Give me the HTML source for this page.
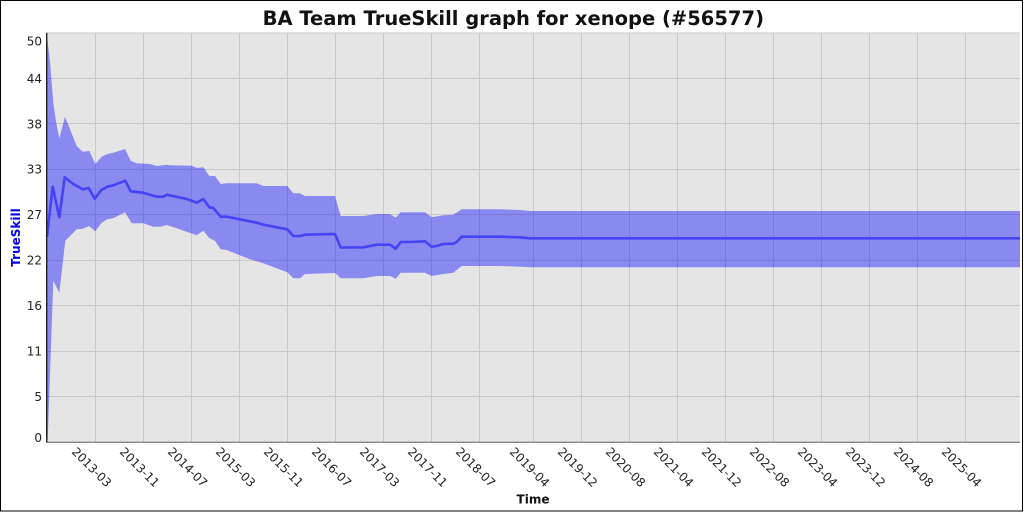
<!DOCTYPE html>
<html>
<head>
<meta charset="utf-8">
<style>
html,body{margin:0;padding:0;background:#fff;}
body{width:1024px;height:512px;overflow:hidden;}
svg{display:block;}
text{font-family:"DejaVu Sans","Liberation Sans",sans-serif;}
</style>
</head>
<body>
<svg width="1024" height="512" viewBox="0 0 1024 512" xmlns="http://www.w3.org/2000/svg">
  <rect x="0" y="0" width="1024" height="512" fill="#ffffff"/>
  <!-- plot background -->
  <rect x="46.5" y="32.7" width="973.5" height="409.3" fill="#e5e5e5"/>
  <!-- horizontal gridlines -->
  <g stroke="#c9c9c9" stroke-width="1">
    <line x1="46.5" x2="1020" y1="33" y2="33"/>
    <line x1="46.5" x2="1020" y1="78.5" y2="78.5"/>
    <line x1="46.5" x2="1020" y1="123.5" y2="123.5"/>
    <line x1="46.5" x2="1020" y1="169.5" y2="169.5"/>
    <line x1="46.5" x2="1020" y1="214.5" y2="214.5"/>
    <line x1="46.5" x2="1020" y1="260.5" y2="260.5"/>
    <line x1="46.5" x2="1020" y1="305.5" y2="305.5"/>
    <line x1="46.5" x2="1020" y1="351.5" y2="351.5"/>
    <line x1="46.5" x2="1020" y1="396.5" y2="396.5"/>
  </g>
  <!-- vertical gridlines -->
  <g stroke="#c9c9c9" stroke-width="1">
    <line y1="33" y2="442" x1="95.5" x2="95.5"/>
    <line y1="33" y2="442" x1="143.5" x2="143.5"/>
    <line y1="33" y2="442" x1="191.5" x2="191.5"/>
    <line y1="33" y2="442" x1="239.5" x2="239.5"/>
    <line y1="33" y2="442" x1="287.5" x2="287.5"/>
    <line y1="33" y2="442" x1="335.5" x2="335.5"/>
    <line y1="33" y2="442" x1="383.5" x2="383.5"/>
    <line y1="33" y2="442" x1="431.5" x2="431.5"/>
    <line y1="33" y2="442" x1="479.5" x2="479.5"/>
    <line y1="33" y2="442" x1="533.5" x2="533.5"/>
    <line y1="33" y2="442" x1="581.5" x2="581.5"/>
    <line y1="33" y2="442" x1="629.5" x2="629.5"/>
    <line y1="33" y2="442" x1="677.5" x2="677.5"/>
    <line y1="33" y2="442" x1="725.5" x2="725.5"/>
    <line y1="33" y2="442" x1="773.5" x2="773.5"/>
    <line y1="33" y2="442" x1="821.5" x2="821.5"/>
    <line y1="33" y2="442" x1="869.5" x2="869.5"/>
    <line y1="33" y2="442" x1="917.5" x2="917.5"/>
    <line y1="33" y2="442" x1="965.5" x2="965.5"/>
  </g>
  <!-- uncertainty band -->
  <polygon fill="rgba(0,0,255,0.4)" points="
46.7,33.3 50,61.7 53.3,103.3 56,121.7 59.3,138.3 65,116.7 76.7,146 82.7,151.7 89.3,151 95.3,164 101.7,156.7 107.3,154 113.3,152.7 125,149 130.7,160.7 136.7,163.3 150,164 156.7,166 166.7,164.7 170,165.3 191.7,165.7 197.3,168 203.3,167.3 209.3,176 215,176 220.7,184 226.7,183.3 256.7,183.3 263.3,186 287.3,186 293.3,193.3 300,193.3 305,196 335,196 340.7,216 363.3,216 376.7,214 390,214 395.7,217.7 400.7,212.3 425,212.3 431.7,217.3 443.3,215.3 453.3,214.7 461.7,209.3 500,209.3 520,210 530,211 1020,211
1020,267.3 530,267.3 520,266.7 500,266 461.7,266 453.3,272.7 443.3,274 431.7,276 425,272.7 400.7,272.7 395.7,278.7 390,276 376.7,276 363.3,278.3 340.7,278.3 335,273 305,274 300,278.3 293.3,278.3 287.3,272.3 263.3,263.3 250,259.3 226.7,250 220.7,249.3 215,240.7 209.3,238 203.3,230.7 196.7,235.3 176.7,228.3 166.7,225 160,226.7 153.3,226.7 143.3,223.3 131.7,223.3 125,212.3 113.3,218.3 107.3,219.3 101.7,222.7 95.3,231.3 89.3,226 82.7,228.7 76.7,229.3 65.3,240.7 59.3,292.7 53.3,280.7 47.7,440 46.7,440"/>
  <!-- mean line -->
  <polyline fill="none" stroke="#4444f4" stroke-width="2.6" stroke-linejoin="round" stroke-linecap="butt" points="
47,236.7 52.7,186.7 59.3,217.3 64.7,177.3 73.3,184 82.7,189.3 88.7,188 94.7,198.7 101.3,190 107.3,186.7 113.3,185.3 125.3,180.7 130.7,191.3 143.3,192.7 156.7,196.7 163.3,196.7 166.7,194.7 186.7,199 196.7,202.7 203.3,199 209.3,207.3 213.3,208 220.7,216.7 226.7,216.7 256.7,222.7 263.3,224.7 287.3,229.3 293.3,236 300,236 305,234.7 335,234 340.7,247.5 363.3,247.3 376.7,244.7 390,244.7 395.7,248.7 400.7,242 410,242 425,241.3 431.7,246.7 436.7,246 443.3,244 453.3,243.7 456.7,242 461.7,236.7 500,236.7 520,237.3 530,238.3 1020,238.3"/>
  <!-- axes -->
  <line x1="46.5" x2="1020" y1="442.3" y2="442.3" stroke="#888888" stroke-width="1.3"/>
  <line x1="46.7" x2="46.7" y1="32.7" y2="442.5" stroke="#222222" stroke-width="1.4"/>

  <!-- y tick labels -->
  <g font-size="12" fill="#222" text-anchor="end">
    <text x="42" y="45.5">50</text>
    <text x="42" y="82.8">44</text>
    <text x="42" y="128.3">38</text>
    <text x="42" y="173.7">33</text>
    <text x="42" y="219.2">27</text>
    <text x="42" y="264.6">22</text>
    <text x="42" y="310.1">16</text>
    <text x="42" y="355.5">11</text>
    <text x="42" y="401">5</text>
    <text x="42" y="442">0</text>
  </g>

  <!-- x tick labels -->
  <g font-size="12" fill="#222">
    <text transform="translate(71,452.5) rotate(45)">2013-03</text>
    <text transform="translate(119,452.5) rotate(45)">2013-11</text>
    <text transform="translate(167,452.5) rotate(45)">2014-07</text>
    <text transform="translate(215,452.5) rotate(45)">2015-03</text>
    <text transform="translate(263,452.5) rotate(45)">2015-11</text>
    <text transform="translate(311,452.5) rotate(45)">2016-07</text>
    <text transform="translate(359,452.5) rotate(45)">2017-03</text>
    <text transform="translate(407,452.5) rotate(45)">2017-11</text>
    <text transform="translate(455,452.5) rotate(45)">2018-07</text>
    <text transform="translate(509,452.5) rotate(45)">2019-04</text>
    <text transform="translate(557,452.5) rotate(45)">2019-12</text>
    <text transform="translate(605,452.5) rotate(45)">2020-08</text>
    <text transform="translate(653,452.5) rotate(45)">2021-04</text>
    <text transform="translate(701,452.5) rotate(45)">2021-12</text>
    <text transform="translate(749,452.5) rotate(45)">2022-08</text>
    <text transform="translate(797,452.5) rotate(45)">2023-04</text>
    <text transform="translate(845,452.5) rotate(45)">2023-12</text>
    <text transform="translate(893,452.5) rotate(45)">2024-08</text>
    <text transform="translate(941,452.5) rotate(45)">2025-04</text>
  </g>

  <!-- axis titles -->
  <text x="533" y="503.5" font-size="12" font-weight="bold" fill="#111" text-anchor="middle">Time</text>
  <text transform="translate(20,237.5) rotate(-90)" font-size="12" font-weight="bold" fill="#0000ee" text-anchor="middle">TrueSkill</text>

  <!-- title -->
  <text x="513.3" y="25" font-size="19.5" font-weight="bold" fill="#111" text-anchor="middle">BA Team TrueSkill graph for xenope (#56577)</text>

  <!-- outer border -->
  <rect x="0.5" y="0.5" width="1022" height="510.5" fill="none" stroke="#000" stroke-width="1"/>
</svg>
</body>
</html>
